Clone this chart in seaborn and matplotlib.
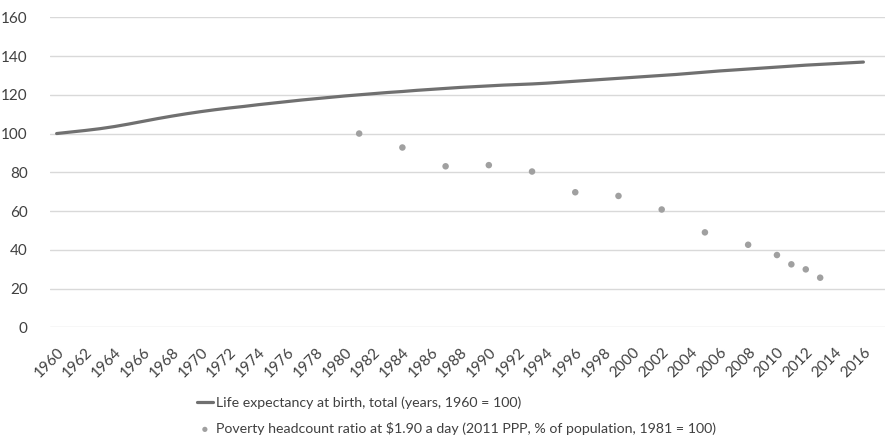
import matplotlib
matplotlib.use("Agg")
import matplotlib.pyplot as plt
import numpy as np
import pandas as pd
import seaborn as sns

years = list(range(1960, 2017))
life_expectancy = [
    100.0, 100.8, 101.6, 102.5, 103.6, 104.9, 106.3, 107.7, 109.0, 110.2,
    111.3, 112.3, 113.2, 114.0, 114.9, 115.7, 116.5, 117.3, 118.0, 118.7,
    119.4, 120.0, 120.6, 121.2, 121.7, 122.3, 122.8, 123.3, 123.8, 124.2,
    124.6, 125.0, 125.3, 125.6, 126.0, 126.5, 127.0, 127.5, 128.0, 128.5,
    129.0, 129.5, 130.0, 130.5, 131.1, 131.7, 132.3, 132.8, 133.3, 133.8,
    134.3, 134.8, 135.3, 135.7, 136.1, 136.5, 136.9,
]
poverty_years = [1981, 1984, 1987, 1990, 1993, 1996, 1999, 2002, 2005, 2008, 2010, 2011, 2012, 2013]
poverty_ratio = [100.0, 92.8, 83.1, 83.7, 80.4, 69.7, 67.8, 60.8, 49.0, 42.6, 37.3, 32.5, 29.9, 25.6]

life_label = "Life expectancy at birth, total (years, 1960 = 100)"
poverty_label = "Poverty headcount ratio at $1.90 a day (2011 PPP, % of population, 1981 = 100)"

life_df = pd.DataFrame({"year": years, "value": life_expectancy})
pov_df = pd.DataFrame({"year": poverty_years, "value": poverty_ratio})

sns.set_style("white")
plt.rcParams["font.family"] = ["Lato", "DejaVu Sans"]

fig = plt.figure(figsize=(8.87, 4.43), dpi=100)
ax = fig.add_axes([50 / 887, 1 - 327.3 / 443, 835 / 887, (327.3 - 17.3) / 443])

sns.lineplot(data=life_df, x="year", y="value", ax=ax, color="#707070",
             linewidth=2.3, label=life_label, zorder=3)
sns.scatterplot(data=pov_df, x="year", y="value", ax=ax, color="#A0A0A0",
                s=22, edgecolor="none", label=poverty_label, zorder=3)

ax.set_ylim(0, 160)
ax.set_yticks(np.arange(0, 161, 20))
ax.set_xlim(1959.54, 2017.5)
ax.set_xticks(years[::2])
ax.set_xticklabels([str(y) for y in years[::2]], rotation=45, ha="right",
                   rotation_mode="anchor", fontsize=11, color="#404040")
ax.tick_params(axis="y", labelsize=11, labelcolor="#404040", length=0, pad=16)
ax.tick_params(axis="x", length=0, pad=13)
ax.grid(axis="y", color="#D9D9D9", linewidth=1)
ax.set_axisbelow(True)
for s in ax.spines.values():
    s.set_visible(False)
ax.set_xlabel("")
ax.set_ylabel("")

handles, labels = ax.get_legend_handles_labels()
ax.get_legend().remove()
fig.legend(handles, labels, loc="upper left", bbox_to_anchor=(190 / 887, 1 - 389 / 443),
           frameon=False, fontsize=10.2, handlelength=1.1, handletextpad=0.25,
           labelspacing=0.95, labelcolor="#404040", borderpad=0, markerscale=0.8)

fig.savefig("out.png", dpi=100)
